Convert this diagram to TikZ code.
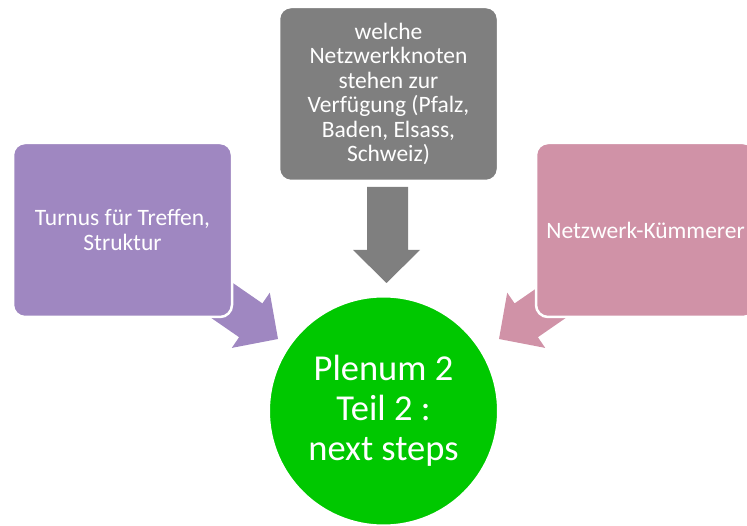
\documentclass[tikz,border=0pt]{standalone}
\usepackage{fontspec}
\setmainfont{Carlito}
\definecolor{cpurple}{RGB}{159,135,193}
\definecolor{cpink}{RGB}{208,146,167}
\definecolor{cgray}{RGB}{127,127,127}
\definecolor{cgreen}{RGB}{0,200,0}
\begin{document}
\begin{tikzpicture}[x=1pt,y=-1pt,
  box/.style={rectangle, rounded corners=12pt, draw=white, line width=2.5pt,
    minimum width=219pt, minimum height=174pt, inner sep=0pt, outer sep=0pt,
    text=white, align=center, font=\fontsize{23.5}{24.5}\selectfont},
  hub/.style={circle, fill=cgreen, draw=white, line width=2pt, minimum size=229pt,
    inner sep=0pt, text=white, align=center, font=\fontsize{36.5}{40}\selectfont}]
\useasboundingbox (0,0) rectangle (747,526);
\clip (0,0) rectangle (747,526);
% block arrows (drawn first, boxes overlap their tails)
\fill[cpurple] (210.6,267.6) -- (262.4,303.4) -- (269.8,292.7) -- (278,339)
  -- (231.8,347.9) -- (239.1,337.2) -- (187.3,301.4) -- cycle;
\fill[cpink] (566.4,267.6) -- (514.6,303.4) -- (507.2,292.7) -- (499,339)
  -- (545.2,347.9) -- (537.9,337.2) -- (589.7,301.4) -- cycle;
\fill[cgray] (367,187) -- (408,187) -- (408,250) -- (420,250) -- (386.5,283)
  -- (353,250) -- (367,250) -- cycle;
% boxes
\node[box, fill=cpurple] (turnus) at (122.5,230) {Turnus für Treffen,\\Struktur};
\node[box, fill=cpink] (kuemmerer) at (645.5,230) {Netzwerk-Kümmerer};
\node[box, fill=cgray] (knoten) at (388.5,94) {welche\\Netzwerkknoten\\stehen zur\\Verfügung (Pfalz,\\Baden, Elsass,\\Schweiz)};
% hub
\node[hub] (plenum) at (383.5,411) {Plenum 2\\Teil 2 :\\next steps};
\end{tikzpicture}
\end{document}
